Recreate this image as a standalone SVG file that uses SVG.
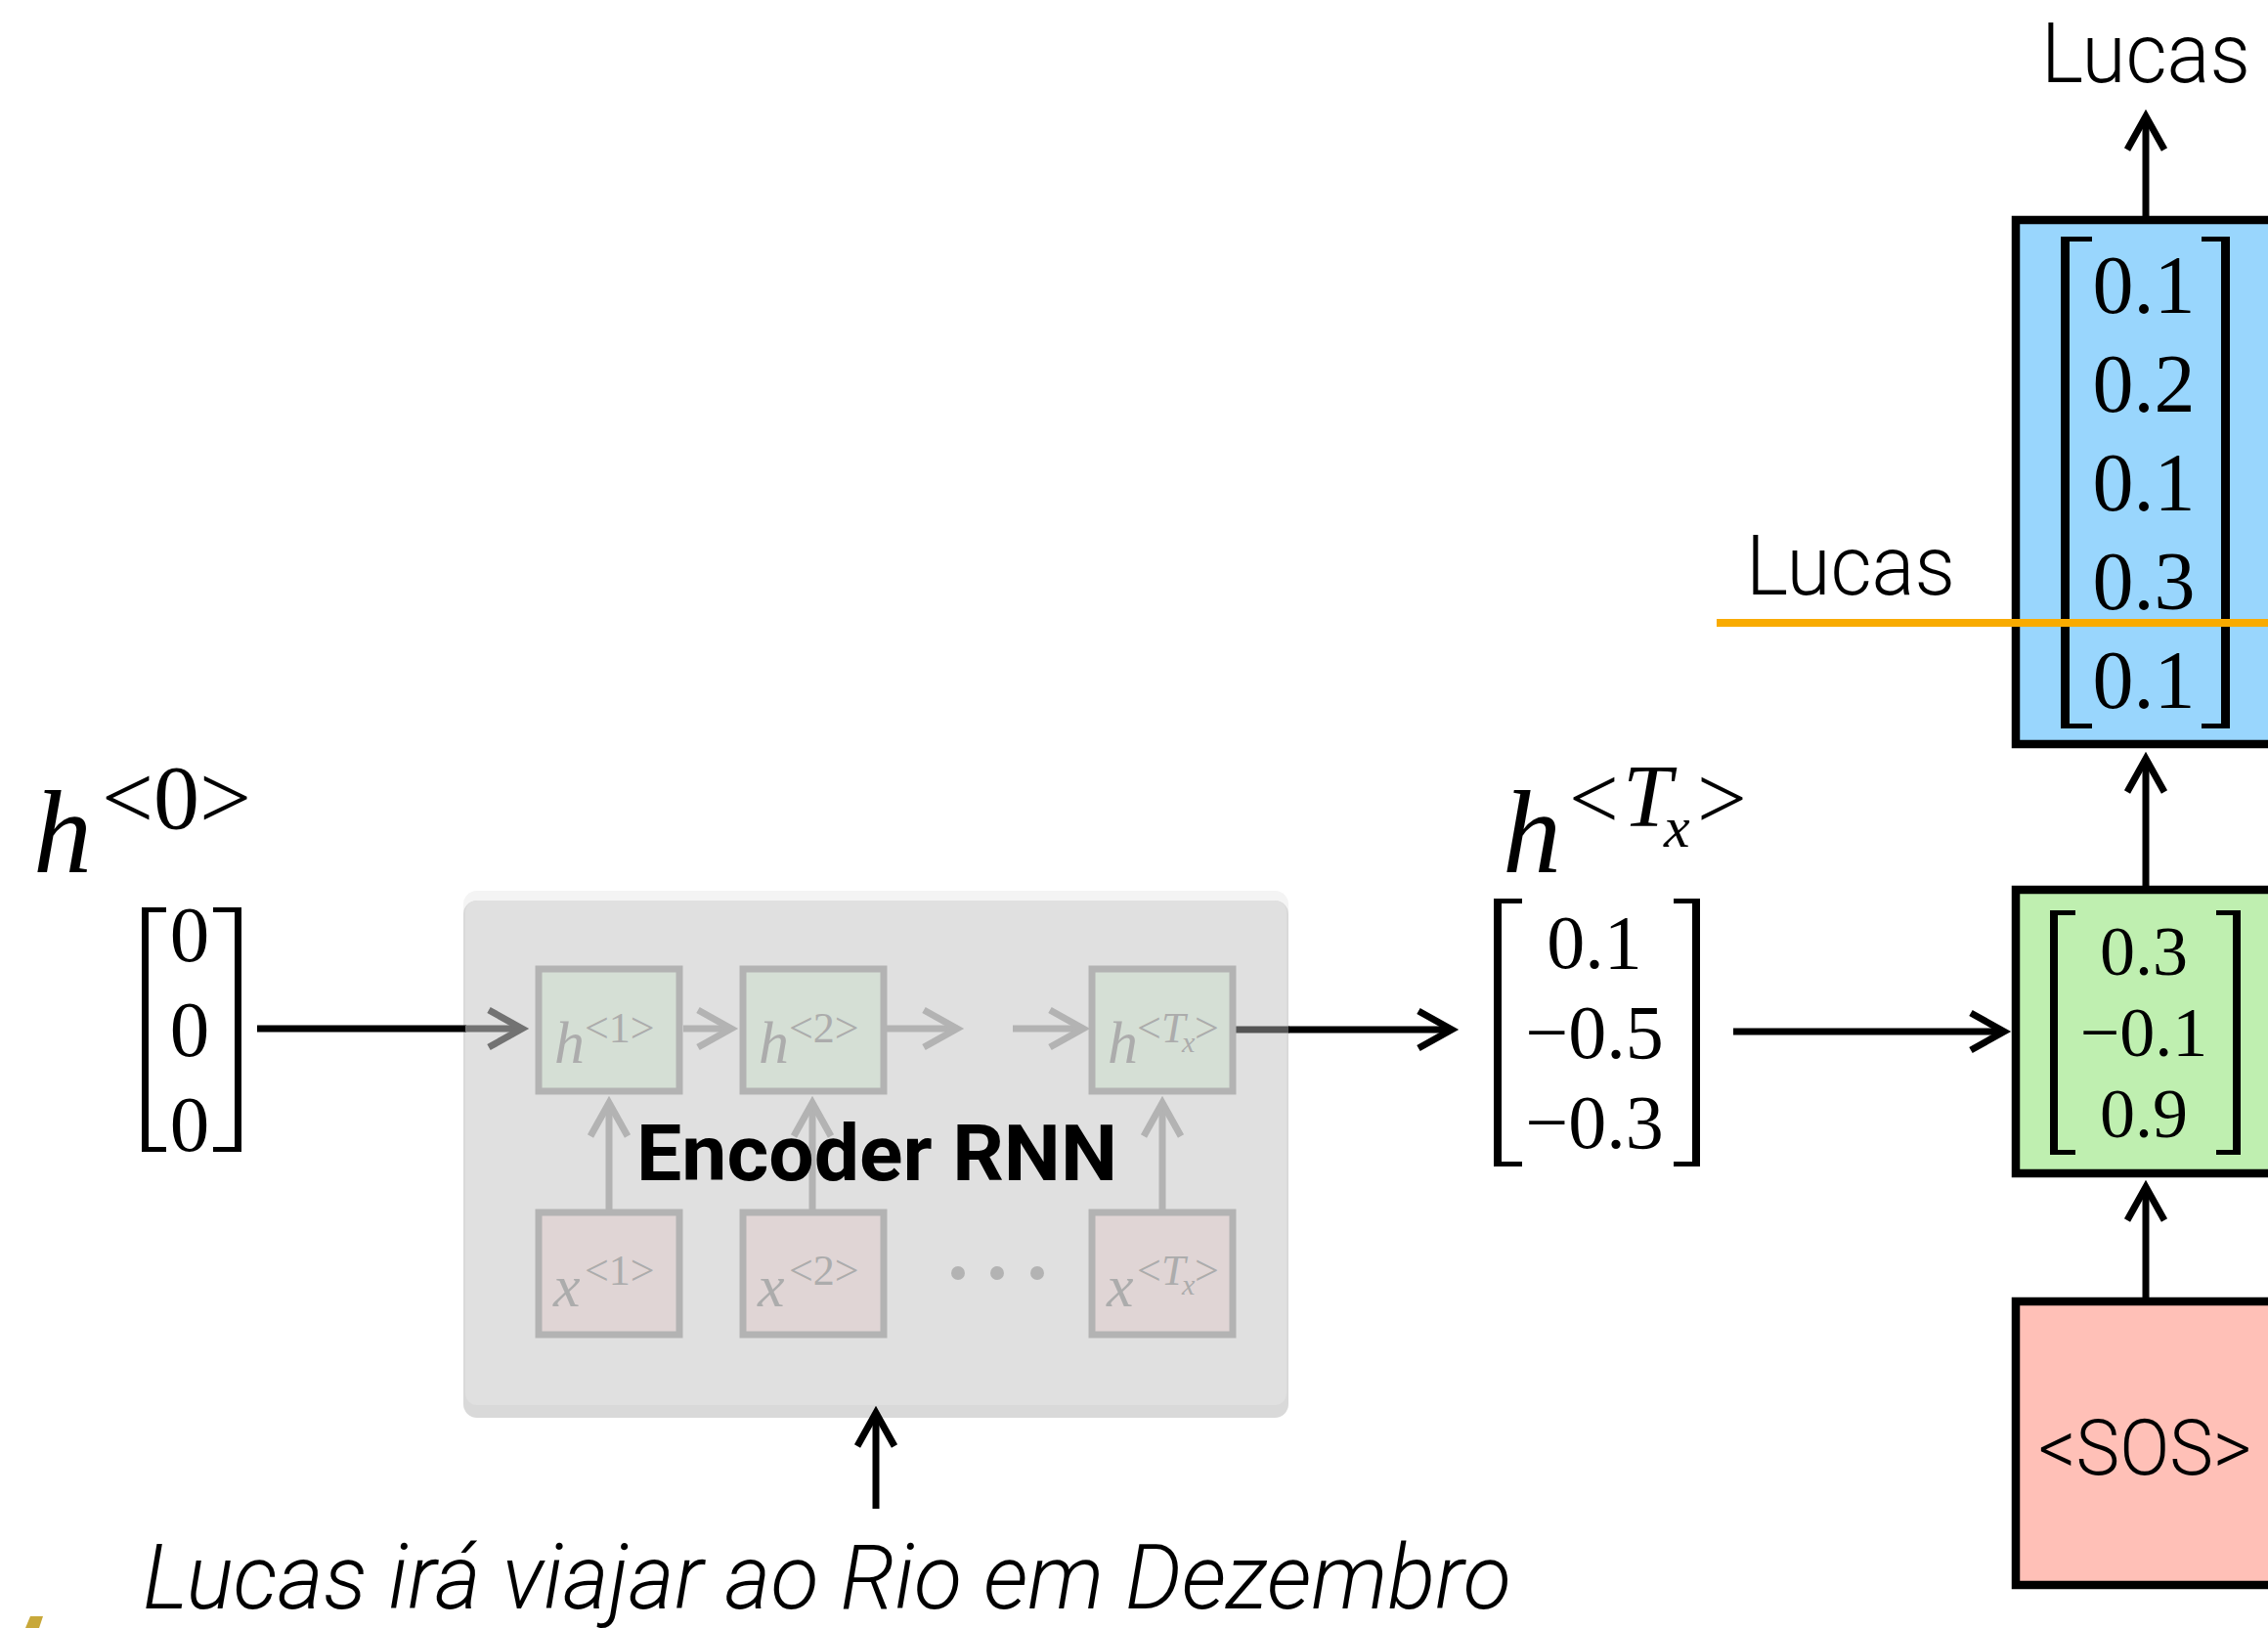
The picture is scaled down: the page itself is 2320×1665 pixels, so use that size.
<svg xmlns="http://www.w3.org/2000/svg" width="2320" height="1665" viewBox="0 0 2320 1665">
  <style>
    .math { font-family: "Liberation Serif", "Times New Roman", serif; }
    .it { font-style: italic; }
    .num { font-family: "Liberation Serif", "Times New Roman", serif; text-anchor: middle; fill: #000; }
    .word { font-family: Roboto, "Liberation Sans", sans-serif; font-weight: 300; fill: #000; }
    .ln { stroke: #000; stroke-width: 7; fill: none; }
    .ln-gray { stroke: #b3b3b3; stroke-width: 7; fill: none; }
    .cell { stroke: #b3b3b3; stroke-width: 7; }
    .hcell { fill: #d5dfd5; }
    .xcell { fill: #e0d5d5; }
    .ghost { fill: #acacac; font-family: "Liberation Serif", "Times New Roman", serif; }
    .box { stroke: #000; stroke-width: 8.5; }
    .bracket { fill: #000; }
  </style>
  <defs>
    <marker id="chev" markerUnits="userSpaceOnUse" markerWidth="60" markerHeight="60" viewBox="-45 -30 60 60" refX="0" refY="0" orient="auto" overflow="visible">
      <path d="M-34,-19 L0,0 L-34,19" fill="none" stroke="#000" stroke-width="7"/>
    </marker>
    <marker id="chev-gray" markerUnits="userSpaceOnUse" markerWidth="60" markerHeight="60" viewBox="-45 -30 60 60" refX="0" refY="0" orient="auto" overflow="visible">
      <path d="M-34,-19 L0,0 L-34,19" fill="none" stroke="#b3b3b3" stroke-width="7"/>
    </marker>
    <marker id="chev-dim" markerUnits="userSpaceOnUse" markerWidth="60" markerHeight="60" viewBox="-45 -30 60 60" refX="0" refY="0" orient="auto" overflow="visible">
      <path d="M-34,-19 L0,0 L-34,19" fill="none" stroke="#727272" stroke-width="7"/>
    </marker>
  </defs>

  <rect width="2320" height="1665" fill="#fff"/>

  <!-- encoder panel -->
  <g id="encoder-panel">
    <rect x="474" y="911" width="844" height="530" rx="14" fill="#f4f4f4"/>
    <rect x="474" y="921" width="844" height="529" rx="14" fill="#d9d9d9"/>
    <rect x="476" y="921" width="840" height="516" rx="12" fill="#e0e0e0"/>
  </g>

  <!-- connectors -->
  <g id="connectors">
    <line class="ln" x1="263" y1="1052" x2="477" y2="1052"/>
    <line x1="476" y1="1052" x2="534" y2="1052" stroke="#727272" stroke-width="7" marker-end="url(#chev-dim)"/>
    <line class="ln-gray" x1="699" y1="1052" x2="748" y2="1052" marker-end="url(#chev-gray)"/>
    <line class="ln-gray" x1="907" y1="1052" x2="979" y2="1052" marker-end="url(#chev-gray)"/>
    <line class="ln-gray" x1="1036" y1="1052" x2="1108" y2="1052" marker-end="url(#chev-gray)"/>
    <line class="ln-gray" x1="623" y1="1237" x2="623" y2="1128" marker-end="url(#chev-gray)"/>
    <line class="ln-gray" x1="831" y1="1237" x2="831" y2="1128" marker-end="url(#chev-gray)"/>
    <line class="ln-gray" x1="1189" y1="1237" x2="1189" y2="1128" marker-end="url(#chev-gray)"/>
    <line x1="1261" y1="1053" x2="1319" y2="1053" stroke="#545454" stroke-width="7"/>
    <line class="ln" x1="1318" y1="1053" x2="1485" y2="1053" marker-end="url(#chev)"/>
    <line class="ln" x1="1773" y1="1055" x2="2050" y2="1055" marker-end="url(#chev)"/>
    <line class="ln" x1="2195" y1="1327" x2="2195" y2="1214" marker-end="url(#chev)"/>
    <line class="ln" x1="2195" y1="906" x2="2195" y2="776" marker-end="url(#chev)"/>
    <line class="ln" x1="2195" y1="221" x2="2195" y2="119" marker-end="url(#chev)"/>
    <line class="ln" x1="896" y1="1543" x2="896" y2="1445" marker-end="url(#chev)"/>
  </g>

  <!-- encoder cells -->
  <g id="enc-h1">
    <rect class="cell hcell" x="551" y="991" width="144" height="125"/>
    <text class="ghost" x="567" y="1087" font-size="62"><tspan class="it">h</tspan><tspan x="598" y="1066" font-size="44">&lt;1&gt;</tspan></text>
  </g>
  <g id="enc-h2">
    <rect class="cell hcell" x="760" y="991" width="144" height="125"/>
    <text class="ghost" x="776" y="1087" font-size="62"><tspan class="it">h</tspan><tspan x="807" y="1066" font-size="44">&lt;2&gt;</tspan></text>
  </g>
  <g id="enc-hT">
    <rect class="cell hcell" x="1117" y="991" width="144" height="125"/>
    <text class="ghost" x="1133" y="1087" font-size="62"><tspan class="it">h</tspan><tspan x="1163" y="1066" font-size="44">&lt;</tspan><tspan class="it" x="1188" y="1066" font-size="44">T</tspan><tspan class="it" x="1209" y="1076" font-size="30">x</tspan><tspan x="1222" y="1066" font-size="44">&gt;</tspan></text>
  </g>
  <g id="enc-x1">
    <rect class="cell xcell" x="551" y="1240" width="144" height="125"/>
    <text class="ghost" x="566" y="1336" font-size="62"><tspan class="it">x</tspan><tspan x="598" y="1314" font-size="44">&lt;1&gt;</tspan></text>
  </g>
  <g id="enc-x2">
    <rect class="cell xcell" x="760" y="1240" width="144" height="125"/>
    <text class="ghost" x="775" y="1336" font-size="62"><tspan class="it">x</tspan><tspan x="807" y="1314" font-size="44">&lt;2&gt;</tspan></text>
  </g>
  <g id="enc-xT">
    <rect class="cell xcell" x="1117" y="1240" width="144" height="125"/>
    <text class="ghost" x="1132" y="1336" font-size="62"><tspan class="it">x</tspan><tspan x="1163" y="1314" font-size="44">&lt;</tspan><tspan class="it" x="1188" y="1314" font-size="44">T</tspan><tspan class="it" x="1209" y="1324" font-size="30">x</tspan><tspan x="1222" y="1314" font-size="44">&gt;</tspan></text>
  </g>
  <g id="enc-ellipsis" fill="#b3b3b3">
    <circle cx="980" cy="1302" r="7"/>
    <circle cx="1020" cy="1302" r="7"/>
    <circle cx="1061" cy="1302" r="7"/>
  </g>
  <g id="enc-label">
    <text x="651" y="1207" font-family="Roboto, 'Liberation Sans', sans-serif" font-weight="700" font-size="80" textLength="492" lengthAdjust="spacingAndGlyphs">Encoder RNN</text>
  </g>

  <!-- initial hidden state -->
  <g id="h0">
    <text class="math" x="34" y="892" font-size="120"><tspan class="it">h</tspan><tspan x="104" y="847" font-size="94">&lt;0&gt;</tspan></text>
    <path class="bracket" d="M145,928 H170 V933 H152 V1173 H170 V1178 H145 Z"/>
    <path class="bracket" d="M247,928 H218 V933 H240 V1173 H218 V1178 H247 Z"/>
    <text class="num" x="194" y="983" font-size="81">0</text>
    <text class="num" x="194" y="1080" font-size="81">0</text>
    <text class="num" x="194" y="1177" font-size="81">0</text>
  </g>

  <!-- final encoder state -->
  <g id="hT">
    <text class="math" x="1537" y="892" font-size="120"><tspan class="it">h</tspan><tspan x="1605" y="847" font-size="90">&lt;</tspan><tspan class="it" x="1660" y="845" font-size="90">T</tspan><tspan class="it" x="1702" y="866" font-size="60">x</tspan><tspan x="1736" y="847" font-size="90">&gt;</tspan></text>
    <path class="bracket" d="M1528,919 H1557 V924 H1536 V1188 H1557 V1193 H1528 Z"/>
    <path class="bracket" d="M1739,919 H1712 V924 H1731 V1188 H1712 V1193 H1739 Z"/>
    <text class="num" x="1631" y="990" font-size="78">0.1</text>
    <text class="num" x="1631" y="1082" font-size="78">−0.5</text>
    <text class="num" x="1631" y="1174" font-size="78">−0.3</text>
  </g>

  <!-- decoder hidden state -->
  <g id="dec-hidden">
    <rect class="box" x="2062" y="910" width="266" height="290" fill="#bfefb0"/>
    <path class="bracket" d="M2097,931 H2123 V936 H2105 V1176 H2123 V1181 H2097 Z"/>
    <path class="bracket" d="M2292,931 H2267 V936 H2284 V1176 H2267 V1181 H2292 Z"/>
    <text class="num" x="2193" y="997" font-size="72">0.3</text>
    <text class="num" x="2193" y="1080" font-size="72">−0.1</text>
    <text class="num" x="2193" y="1163" font-size="72">0.9</text>
  </g>

  <!-- decoder output distribution -->
  <g id="dec-output">
    <rect class="box" x="2062" y="225" width="266" height="536" fill="#99d6fd"/>
    <path class="bracket" d="M2108,242 H2140 V247 H2117 V740 H2140 V745 H2108 Z"/>
    <path class="bracket" d="M2281,242 H2252 V247 H2272 V740 H2252 V745 H2281 Z"/>
    <text class="num" x="2193" y="320" font-size="84">0.1</text>
    <text class="num" x="2193" y="421" font-size="84">0.2</text>
    <text class="num" x="2193" y="522" font-size="84">0.1</text>
    <text class="num" x="2193" y="623" font-size="84">0.3</text>
    <text class="num" x="2193" y="724" font-size="84">0.1</text>
  </g>

  <!-- start token -->
  <g id="sos">
    <rect class="box" x="2062" y="1331" width="266" height="290" fill="#ffc0b7"/>
    <text class="word" x="2085" y="1508" font-size="79" textLength="218" lengthAdjust="spacingAndGlyphs">&lt;SOS&gt;</text>
  </g>

  <!-- highlighted row and predicted word -->
  <g id="highlight">
    <line x1="1756" y1="637" x2="2320" y2="637" stroke="#f9ab00" stroke-width="8"/>
    <text class="word" x="1786" y="608" font-size="86" textLength="214" lengthAdjust="spacingAndGlyphs">Lucas</text>
  </g>
  <g id="out-word">
    <text class="word" x="2088" y="84" font-size="86" textLength="214" lengthAdjust="spacingAndGlyphs">Lucas</text>
  </g>

  <!-- input sentence -->
  <g id="sentence">
    <text class="word" x="146" y="1645" font-size="93" font-style="italic" textLength="1400" lengthAdjust="spacingAndGlyphs">Lucas irá viajar ao Rio em Dezembro</text>
  </g>

  <!-- corner mark -->
  <polygon points="31,1653 44,1653 40,1665 26,1665" fill="#c8a83a"/>
</svg>
